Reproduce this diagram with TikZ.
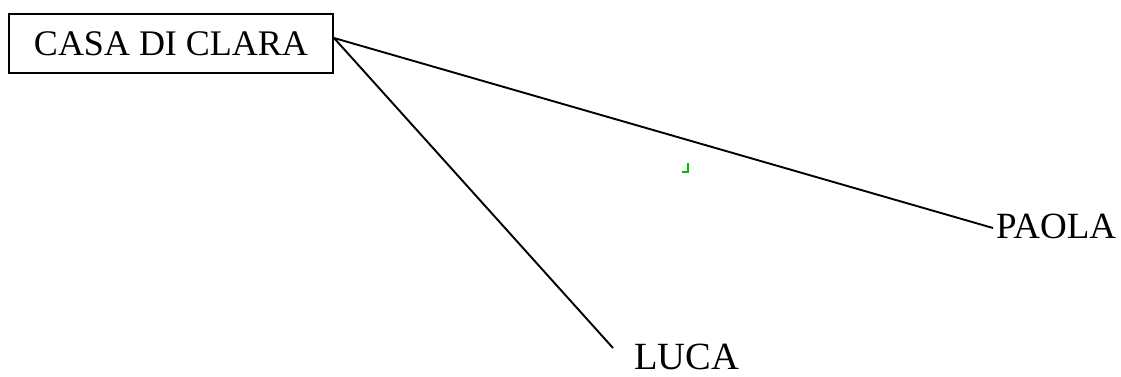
\documentclass[tikz,border=0pt]{standalone}
\usepackage{fontspec}
\setmainfont{Liberation Serif}
\begin{document}
\begin{tikzpicture}[x=1pt,y=-1pt,
  lbl/.style={inner sep=0pt,font=\fontsize{37}{40}\selectfont},
  boxnode/.style={draw,line width=1.8pt,minimum width=324pt,minimum height=59pt,inner sep=0pt,font=\fontsize{36}{40}\selectfont},
  link/.style={line width=1.9pt}]
\useasboundingbox (0,0) rectangle (1121,376);
\node[boxnode] (casa) at (171,43.5) {CASA DI CLARA};
\node[lbl,anchor=base west] (paola) at (996,238) {PAOLA};
\node[lbl,anchor=base west,font=\fontsize{38.5}{40}\selectfont] (luca) at (634,369) {LUCA};
\coordinate (cs) at (334,38);
\coordinate (pe) at (993,228);
\coordinate (le) at (613,348);
\draw[link] (cs) -- (pe);
\draw[link] (cs) -- (le);
\coordinate (g1) at (688,163);
\coordinate (g2) at (688,172);
\coordinate (g3) at (682,172);
\draw[green!75!black,line width=2.6pt] (g1) -- (g2) -- (g3);
\end{tikzpicture}
\end{document}
